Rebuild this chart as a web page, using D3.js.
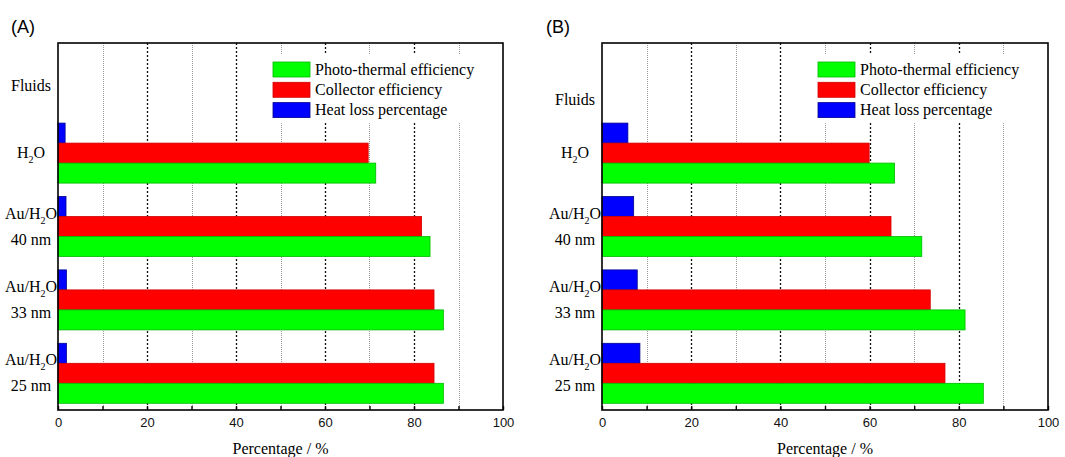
<!DOCTYPE html>
<html><head><meta charset="utf-8">
<script src="https://cdn.jsdelivr.net/npm/d3@7"></script>
<style>body{margin:0;background:#fff}svg{display:block}
.serif{font-family:"Liberation Serif","DejaVu Serif","Times New Roman",Times,serif}
.sans{font-family:"Liberation Sans",Arial,Helvetica,sans-serif}
</style>
</head><body>
<svg id="c" width="1065" height="457"></svg>
<script>
const categories = ["Fluids", "H2O", "Au/H2O 40 nm", "Au/H2O 33 nm", "Au/H2O 25 nm"];
const seriesKeys = ["heat", "collector", "photo"];
const legendNames = ["Photo-thermal efficiency", "Collector efficiency", "Heat loss percentage"];
const legendKeys = ["photo", "collector", "heat"];
const fluids = ["H2O", "Au/H2O 40 nm", "Au/H2O 33 nm", "Au/H2O 25 nm"];
const heatLossA = [1.6, 1.8, 1.9, 1.9];
const collectorA = [69.7, 81.7, 84.5, 84.5];
const photoA = [71.4, 83.6, 86.6, 86.6];
const heatLossB = [5.8, 7.1, 7.9, 8.5];
const collectorB = [59.9, 64.8, 73.6, 76.9];
const photoB = [65.6, 71.7, 81.4, 85.5];
const xTickValues = [0, 10, 20, 30, 40, 50, 60, 70, 80, 90, 100];
const xTickLabels = [0, 20, 40, 60, 80, 100];
const xDomain = [0, 100];

const fill = {photo: "#00ff00", collector: "#ff0000", heat: "#0000ff"};
const edge = {photo: "#00b800", collector: "#d00000", heat: "#000090"};

const svg = d3.select("#c");

function panel(cfg) {
  const g = svg.append("g");
  const x = d3.scaleLinear().domain(xDomain).range([cfg.x0, cfg.x1]);
  const y = d3.scaleBand().domain(categories).range([cfg.y0, cfg.y1]).padding(0);
  const yi = d3.scaleBand().domain(seriesKeys).range([0, y.bandwidth()]).paddingInner(0).paddingOuter(0.335);

  // grid
  g.append("g").selectAll("line").data(xTickValues.filter(v => v > 0 && v < 100)).join("line")
    .attr("x1", d => Math.round(x(d)) + 0.5).attr("x2", d => Math.round(x(d)) + 0.5)
    .attr("y1", cfg.y0).attr("y2", cfg.y1)
    .attr("stroke", d => d % 20 === 0 ? "#111" : "#999")
    .attr("stroke-width", d => d % 20 === 0 ? 1.3 : 1)
    .attr("stroke-dasharray", d => d % 20 === 0 ? "2,2" : "1,1");

  // legend background
  g.append("rect").attr("x", cfg.lx - 8).attr("y", 54).attr("width", 228).attr("height", 68).attr("fill", "#fff");

  // bars
  const rows = fluids.map((f, i) => ({f, heat: cfg.heat[i], collector: cfg.collector[i], photo: cfg.photo[i]}));
  const grp = g.append("g").selectAll("g").data(rows).join("g")
    .attr("transform", d => `translate(0,${y(d.f)})`);
  grp.selectAll("rect").data(d => seriesKeys.map(k => ({k, v: d[k]}))).join("rect")
    .attr("x", x(0)).attr("y", d => yi(d.k)).attr("height", yi.bandwidth())
    .attr("width", d => x(d.v) - x(0))
    .attr("fill", d => fill[d.k]).attr("stroke", d => edge[d.k]).attr("stroke-width", 0.8);

  // frame
  g.append("rect").attr("x", cfg.x0).attr("y", cfg.y0).attr("width", cfg.x1 - cfg.x0).attr("height", cfg.y1 - cfg.y0)
    .attr("fill", "none").attr("stroke", "#000").attr("stroke-width", 1.6);

  // x axis
  const ax = g.append("g").attr("transform", `translate(0,${cfg.y1})`)
    .call(d3.axisBottom(x).tickValues(xTickValues).tickSize(-4).tickPadding(8)
      .tickFormat(d => xTickLabels.includes(d) ? d : ""));
  ax.select(".domain").remove();
  ax.attr("font-family", null).attr("font-size", null);
  ax.selectAll(".tick line").attr("stroke", "#000").attr("stroke-width", 1.4);
  ax.selectAll("text").attr("class", "sans").attr("font-size", 13).attr("fill", "#111");

  g.append("text").attr("class", "serif").attr("x", (cfg.x0 + cfg.x1) / 2).attr("y", 454).attr("text-anchor", "middle")
    .attr("font-size", 16).text("Percentage / %");

  // category labels
  const lc = cfg.x0 - 27;
  categories.forEach((c, i) => {
    const cy = y(c) + y.bandwidth() / 2;
    if (c === "Fluids") {
      g.append("text").attr("class", "serif").attr("x", lc).attr("y", cy + cfg.fluidsDy + 5).attr("text-anchor", "middle")
        .attr("font-size", 16).text("Fluids");
      return;
    }
    const name = c.split(" ")[0];   // "H2O" or "Au/H2O"
    const size = c.split(" ").slice(1).join(" ");
    const line1y = size ? cy - 8 : cy + 5;
    const tx = g.append("text").attr("class", "serif").attr("x", lc).attr("y", line1y).attr("text-anchor", "middle")
      .attr("font-size", 16);
    const [pre, post] = name.split("2");
    tx.append("tspan").text(pre);
    tx.append("tspan").attr("font-size", 10).attr("dy", 5).text("2");
    tx.append("tspan").attr("dy", -5).text(post);
    if (size) {
      g.append("text").attr("class", "serif").attr("x", lc).attr("y", cy + 18).attr("text-anchor", "middle")
        .attr("font-size", 16).text(size);
    }
  });

  // legend
  const lg = g.append("g").selectAll("g").data(legendKeys).join("g")
    .attr("transform", (d, i) => `translate(${cfg.lx},${62 + i * 20.3})`);
  lg.append("rect").attr("width", 37).attr("height", 15)
    .attr("fill", d => fill[d]).attr("stroke", d => edge[d]).attr("stroke-width", 0.8);
  lg.append("text").attr("class", "serif").attr("x", 42).attr("y", 12.5).attr("font-size", 16)
    .text((d, i) => legendNames[i]);

  svg.append("text").attr("class", "sans").attr("x", cfg.labelX).attr("y", 33).attr("font-size", 18)
    .text(cfg.label);
}

panel({x0: 58, x1: 503, y0: 43, y1: 410, heat: heatLossA, collector: collectorA, photo: photoA,
  lx: 273, label: "(A)", labelX: 11, fluidsDy: 6});
panel({x0: 602, x1: 1048, y0: 43, y1: 410, heat: heatLossB, collector: collectorB, photo: photoB,
  lx: 818, label: "(B)", labelX: 546, fluidsDy: 20});
</script>
</body></html>
